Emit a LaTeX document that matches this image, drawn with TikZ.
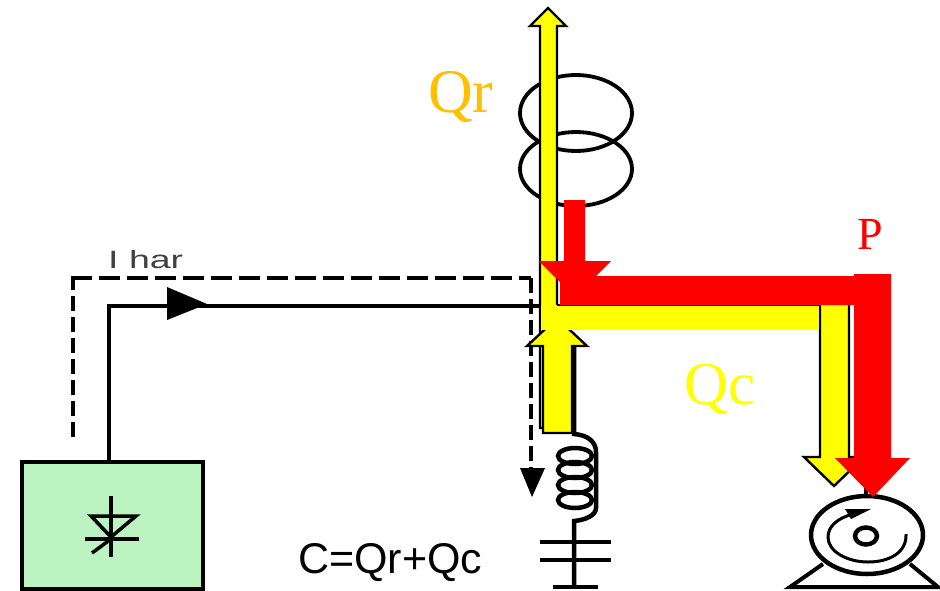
\documentclass[tikz,border=0pt]{standalone}
\usepackage{graphicx}
\usepackage{fontspec}
\setmainfont{Liberation Serif}
\setsansfont{Liberation Sans}
\definecolor{qy}{HTML}{FFFF00}
\definecolor{qo}{HTML}{FFC000}
\definecolor{pr}{HTML}{FF0000}
\definecolor{boxg}{HTML}{BBF4C0}
\tikzset{
  wire/.style={draw=black,line width=3.8pt},
  thinwire/.style={draw=black,line width=3pt},
  dashh/.style={draw=black,line width=4pt,dash pattern=on 21pt off 7pt},
  dashv/.style={draw=black,line width=4.5pt,dash pattern=on 15pt off 6pt},
  yarrow/.style={fill=qy,draw=black,line width=2.4pt,line join=miter},
  rarrow/.style={fill=pr,draw=none},
  lab/.style={inner sep=0pt,anchor=base west}
}
\begin{document}
\begin{tikzpicture}[x=1pt,y=-1pt]
\useasboundingbox (0,0) rectangle (940,590);
% transformer
\draw[wire] (576,113) ellipse [x radius=56,y radius=38];
\draw[wire] (576,169) ellipse [x radius=56,y radius=37];
% rectifier
\node[draw=black,line width=4.5pt,fill=boxg,minimum width=181pt,minimum height=127pt,inner sep=0pt,outer sep=0pt,anchor=center] (rect) at (112.5,525.5) {};
\draw[thinwire,line width=3.5pt] (111,496) -- (111,557);
\draw[thinwire,line width=3.5pt,line join=miter] (91,516) -- (136,516) -- (111,537) -- cycle;
\draw[thinwire,line width=3.5pt] (85,539) -- (139,539);
\draw[thinwire,line width=3.5pt] (111,539) -- (92,553);
% harmonic path
\coordinate (cornerS) at (109,306);
\coordinate (busS) at (540,306);
\draw[wire,line join=miter] (rect.north -| cornerS) -- (cornerS) -- (busS);
\fill[black] (167,287) -- (207,304) -- (167,320) -- cycle;
\coordinate (dStart) at (73,437);
\coordinate (dC1) at (73,278);
\coordinate (dC2) at (531,278);
\coordinate (dEnd) at (531,470);
\draw[dashv] (dStart) -- (dC1);
\draw[dashh] (dC1) ++(-2,0) -- (dC2);
\draw[dashv] (dC2) -- (dEnd);
\fill[black] (520,468) -- (545,468) -- (532,497) -- cycle;
% filter wire and inductor
\draw[wire,line width=4.5pt] (574,340) -- (574,434) .. controls (588,435) and (596,442) .. (596,452) -- (596,508) .. controls (596,515) and (586,520) .. (574,521) -- (574,587);
\foreach \yy in {456,470,485,500} \draw[wire,line width=4.5pt] (575,\yy) ellipse [x radius=17,y radius=8];
\draw[wire,line width=4pt] (540,541.5) -- (611,541.5);
\draw[wire,line width=4pt] (540,560) -- (611,560);
\draw[wire,line width=4pt] (553,587) -- (598,587);
% motor
\draw[wire] (866,488) -- (866,497);
\draw[wire,line width=4.5pt] (867,535) ellipse [x radius=56,y radius=39];
\draw[wire,line width=4.5pt] (866,536) ellipse [x radius=11,y radius=8.5];
\draw[thinwire] (853,514) .. controls (838,518) and (828,526) .. (828,537) .. controls (828,552) and (848,562) .. (868,562) .. controls (890,562) and (907,552) .. (906,534);
\fill[black] (845,509) -- (871,509) -- (851,519) -- cycle;
\draw[wire,line width=4pt,line join=miter] (823,564) -- (790,587) -- (938,587) -- (910,564);
% yellow arrows
\draw[yarrow] (540,428) -- (540,26) -- (530,26) -- (548,8) -- (566,26) -- (557,26) -- (557,428) -- cycle;
\draw[yarrow] (543,433) -- (543,346) -- (527,346) -- (557,318) -- (587,346) -- (572,346) -- (572,433) -- cycle;
\draw[yarrow] (820,300) -- (820,457) -- (804,457) -- (834,486) -- (864,457) -- (849,457) -- (849,300);
\fill[qy] (541,305) rectangle (819,330);
\draw[black,line width=2pt] (557,305) -- (820,305);
% red arrows
\fill[rarrow] (564,200) -- (585,200) -- (585,261) -- (611,261) -- (575,297) -- (539,261) -- (564,261) -- cycle;
\fill[rarrow] (560,276) -- (854,276) -- (854,274) -- (891,274) -- (891,458) -- (910,458) -- (873,497) -- (835,458) -- (854,458) -- (854,305) -- (560,305) -- cycle;
% labels
\node[lab,text=qo,font=\fontsize{62}{62}\selectfont] (qr) at (428,112) {Qr};
\node[lab,text=qy,font=\fontsize{61}{61}\selectfont] (qc) at (684,404) {Qc};
\node[lab,text=pr,font=\fontsize{46}{46}\selectfont] (p) at (857,249) {P};
\node[lab,font=\sffamily\fontsize{43}{43}\selectfont] (eq) at (298,573) {C=Qr+Qc};
\node[lab,text=black!75,font=\sffamily\fontsize{25}{25}\selectfont] (ihar) at (108,268) {\scalebox{1.5}[1]{I har}};
\end{tikzpicture}
\end{document}
